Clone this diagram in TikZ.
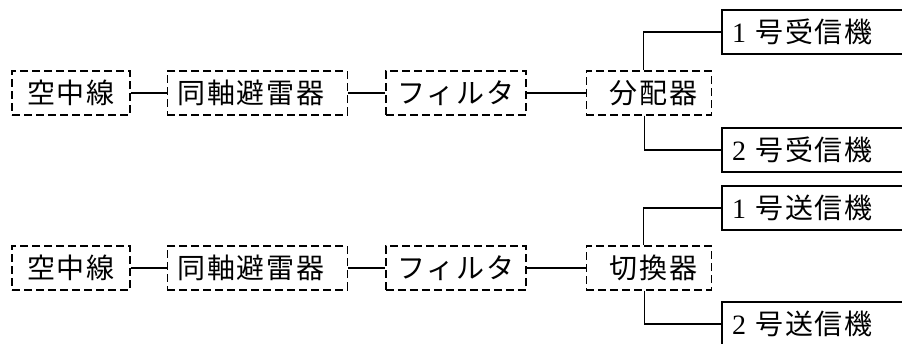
\documentclass[tikz,border=0pt]{standalone}
\usepackage{fontspec}
\setmainfont{Noto Sans CJK JP}[LetterSpace=6]
\newfontfamily\numfont{Liberation Serif}
\usepackage{tikz}
\usetikzlibrary{positioning}
\tikzset{
  every node/.append style={font=\fontsize{28pt}{32pt}\selectfont},
  dbox/.style={draw, dash pattern=on 8pt off 4pt, line width=1.4pt, minimum height=44pt, inner ysep=0pt},
  sbox/.style={draw, line width=2pt, text width=170pt, inner xsep=10pt, align=left, minimum height=44pt, inner ysep=0pt},
  wire/.style={line width=1.3pt}
}

\begin{document}
\begin{tikzpicture}[x=1pt, y=-1pt]
\useasboundingbox (0,0) rectangle (902,343);
\clip (0,0) rectangle (902,343);

% --- Receiving line (top row) ---
\node[dbox, minimum width=118pt, inner xsep=0pt] (ant1) at (71,93) {空中線};
\node[dbox, text width=160pt, inner xsep=10pt, align=left, right=36pt of ant1] (arr1) {同軸避雷器};
\node[dbox, minimum width=140pt, inner xsep=0pt, right=37pt of arr1] (fil1) {フィルタ};
\node[dbox, text width=97pt, inner xsep=14pt, align=right, right=59pt of fil1] (dist) {分配器};

\node[sbox] (rx1) at (817,32) {{\numfont 1} 号受信機};
\node[sbox] (rx2) at (817,150) {{\numfont 2} 号受信機};

\draw[wire] (ant1.east) -- (arr1.west);
\draw[wire] (arr1.east) -- (fil1.west);
\draw[wire] (fil1.east) -- (dist.west);
\draw[wire] ([xshift=-5pt]dist.north) |- (rx1.west);
\draw[wire] ([xshift=-4pt]dist.south) |- (rx2.west);

% --- Transmitting line (bottom row) ---
\node[dbox, minimum width=118pt, inner xsep=0pt] (ant2) at (71,268) {空中線};
\node[dbox, text width=160pt, inner xsep=10pt, align=left, right=36pt of ant2] (arr2) {同軸避雷器};
\node[dbox, minimum width=140pt, inner xsep=0pt, right=37pt of arr2] (fil2) {フィルタ};
\node[dbox, text width=97pt, inner xsep=14pt, align=right, right=59pt of fil2] (swt) {切換器};

\node[sbox] (tx1) at (817,208) {{\numfont 1} 号送信機};
\node[sbox] (tx2) at (817,324) {{\numfont 2} 号送信機};

\draw[wire] (ant2.east) -- (arr2.west);
\draw[wire] (arr2.east) -- (fil2.west);
\draw[wire] (fil2.east) -- (swt.west);
\draw[wire] ([xshift=-5pt]swt.north) |- (tx1.west);
\draw[wire] ([xshift=-4pt]swt.south) |- (tx2.west);

\end{tikzpicture}
\end{document}
